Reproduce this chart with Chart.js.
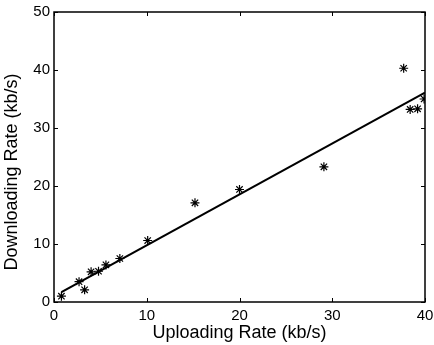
<!DOCTYPE html>
<html>
<head>
<meta charset="utf-8">
<script src="https://cdn.jsdelivr.net/npm/chart.js@4.4.0/dist/chart.umd.min.js"></script>
<style>
  body { margin: 0; background: #fff; }
  #wrap { width: 434px; height: 345px; }
</style>
</head>
<body>
<div id="wrap"><canvas id="rateChart"></canvas></div>
<script>
// measured points (kb/s)
const uploadRate = [0.8, 2.7, 3.3, 4.0, 4.8, 5.6, 7.1, 10.1, 15.2, 20.0, 29.1, 37.7, 38.4, 39.2, 39.9];
const downloadRate = [1.0, 3.5, 2.1, 5.2, 5.3, 6.4, 7.5, 10.6, 17.1, 19.4, 23.3, 40.3, 33.2, 33.3, 35.0];

// fitted line end points
const fitUpload = [0.8, 40];
const fitDownload = [1.7, 36.1];

const xTickValues = [0, 10, 20, 30, 40];
const yTickValues = [0, 10, 20, 30, 40, 50];

const FONT = "'Liberation Sans', Arial, Helvetica, sans-serif";

// MATLAB style box with inward ticks + y label
const framePlugin = {
  id: "frame",
  afterDraw(chart) {
    const { ctx, chartArea: a, scales: { x, y } } = chart;
    ctx.save();
    ctx.strokeStyle = "#000";
    ctx.lineWidth = 1.5;
    ctx.strokeRect(a.left, a.top, a.right - a.left, a.bottom - a.top);
    ctx.lineWidth = 1;
    ctx.beginPath();
    xTickValues.forEach((v) => {
      const px = Math.round(x.getPixelForValue(v)) + 0.5;
      ctx.moveTo(px, a.bottom); ctx.lineTo(px, a.bottom - 4);
      ctx.moveTo(px, a.top); ctx.lineTo(px, a.top + 4);
    });
    yTickValues.forEach((v) => {
      const py = Math.round(y.getPixelForValue(v)) + 0.5;
      ctx.moveTo(a.left, py); ctx.lineTo(a.left + 4, py);
      ctx.moveTo(a.right, py); ctx.lineTo(a.right - 4, py);
    });
    ctx.stroke();

    ctx.fillStyle = "#000";
    ctx.font = "18px " + FONT;
    ctx.textAlign = "center";
    ctx.textBaseline = "middle";
    ctx.translate(12, 172);
    ctx.rotate(-Math.PI / 2);
    ctx.fillText("Downloading Rate (kb/s)", 0, 0);
    ctx.restore();
  },
};

const chart = new Chart(document.getElementById("rateChart"), {
  type: "scatter",
  data: {
    datasets: [
      {
        label: "fit",
        data: fitUpload.map((v, i) => ({ x: v, y: fitDownload[i] })),
        showLine: true,
        borderColor: "#000",
        borderWidth: 2.2,
        pointRadius: 0,
      },
      {
        label: "rate",
        data: uploadRate.map((v, i) => ({ x: v, y: downloadRate[i] })),
        pointStyle: "star",
        pointRadius: 4.5,
        borderColor: "#000",
        backgroundColor: "#000",
        borderWidth: 1.2,
      },
    ],
  },
  options: {
    responsive: true,
    maintainAspectRatio: false,
    animation: false,
    layout: { padding: { top: 12, right: 9, left: 0, bottom: 0 } },
    plugins: { legend: { display: false }, tooltip: { enabled: false } },
    scales: {
      x: {
        min: 0,
        max: 40,
        afterBuildTicks: (s) => { s.ticks = xTickValues.map((v) => ({ value: v })); },
        afterFit: (s) => { s.height = 43; s.paddingLeft = 0; s.paddingRight = 0; },
        grid: { display: false, drawTicks: false },
        border: { display: false },
        ticks: { color: "#000", padding: 5, maxRotation: 0, font: { family: FONT, size: 15 } },
        title: {
          display: true,
          text: "Uploading Rate (kb/s)",
          color: "#000",
          padding: { top: 0, bottom: 1 },
          font: { family: FONT, size: 18 },
        },
      },
      y: {
        min: 0,
        max: 50,
        afterBuildTicks: (s) => { s.ticks = yTickValues.map((v) => ({ value: v })); },
        afterFit: (s) => { s.width = 54; s.paddingTop = 0; s.paddingBottom = 0; },
        grid: { display: false, drawTicks: false },
        border: { display: false },
        ticks: { color: "#000", padding: 4, font: { family: FONT, size: 15 } },
      },
    },
  },
  plugins: [framePlugin],
});
</script>
</body>
</html>
